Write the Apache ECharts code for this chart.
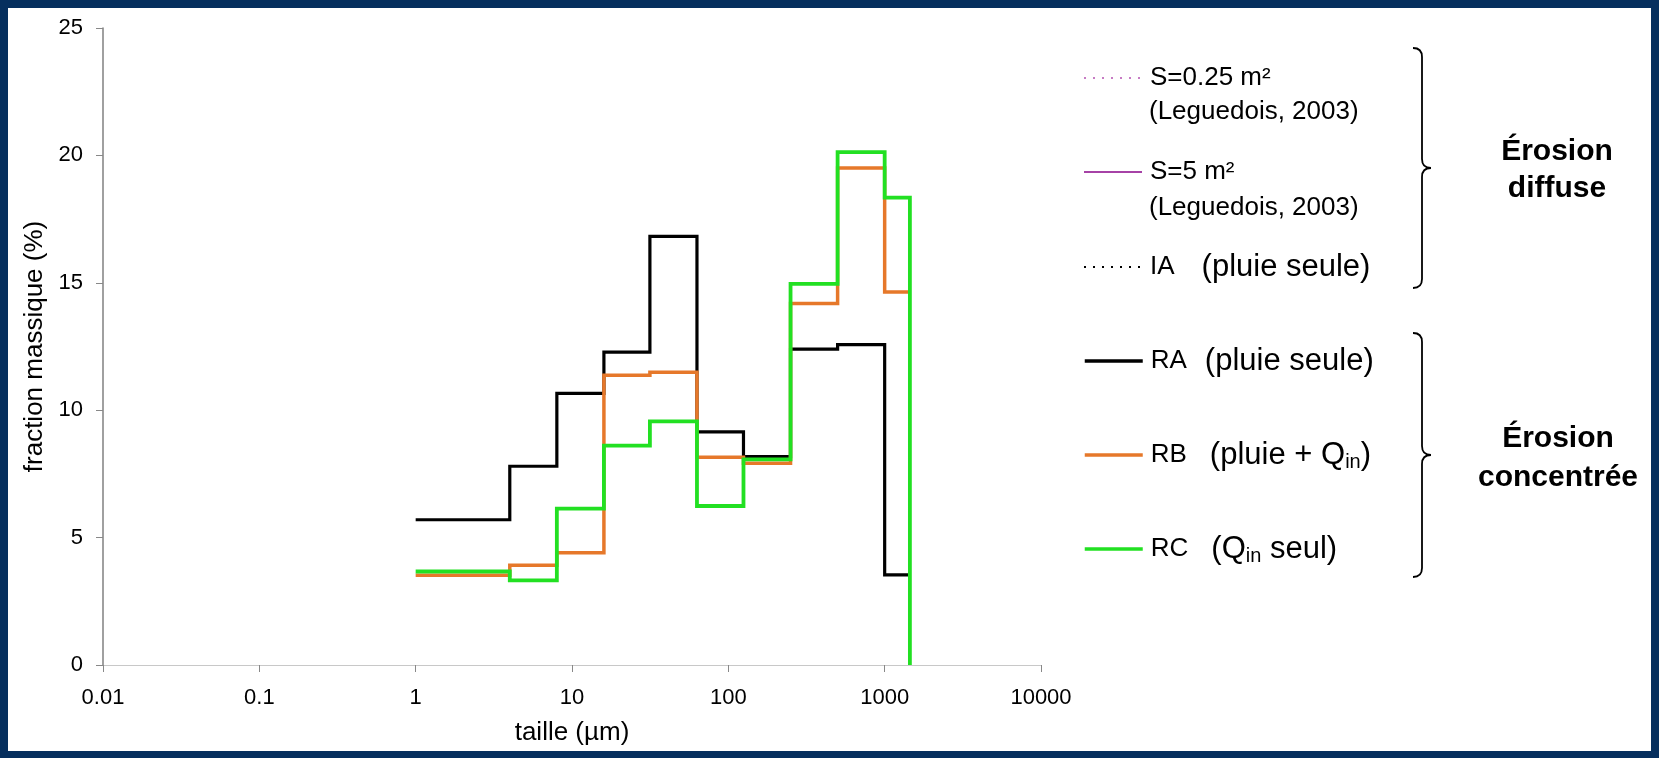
<!DOCTYPE html>
<html><head><meta charset="utf-8">
<script src="https://cdn.jsdelivr.net/npm/echarts@6/dist/echarts.min.js"></script>
<style>
html,body{margin:0;padding:0;background:#062f5e;width:1659px;height:758px;overflow:hidden}
#chart{position:absolute;left:8px;top:8px;width:1643px;height:743px;background:#fff}
</style></head><body><div id="chart"></div>
<script>
// Particle-size class lower edges (µm) and upper edge of last class
const binEdges = [1, 4, 8, 16, 31.5, 63, 125, 250, 500, 1000];
const lastEdge = 1450;
// Mass fractions (%) per class
const RA = [5.70, 7.80, 10.66, 12.28, 16.82, 9.15, 8.18, 12.40, 12.57, 3.54];
const RB = [3.52, 3.91, 4.41, 11.37, 11.49, 8.15, 7.92, 14.19, 19.51, 14.64];
const RC = [3.67, 3.32, 6.14, 8.61, 9.56, 6.24, 8.07, 14.96, 20.13, 18.34];
const RC_closing = 0;
const xTickLabels = ['0.01', '0.1', '1', '10', '100', '1000', '10000'];
const yTickLabels = ['0', '5', '10', '15', '20', '25'];

const FONT = "'Liberation Sans', Arial, sans-serif";

function stepData(vals, closing) {
  const pts = binEdges.map((e, i) => [e, vals[i]]);
  pts.push([lastEdge, vals[vals.length - 1]]);
  if (closing !== undefined) pts.push([lastEdge, closing]);
  return pts;
}

const chart = echarts.init(document.getElementById('chart'), null, {renderer: 'canvas'});

function tok(size, padLeft, extra) {
  return Object.assign({fontSize: size, fontFamily: FONT, color: '#000', lineHeight: 34,
    padding: [0, 0, 0, padLeft || 0]}, extra || {});
}
const legendTextStyle = {
  color: '#000', fontFamily: FONT, fontSize: 26, lineHeight: 34, padding: [0, 0, 0, 3],
  rich: {
    n: tok(26, 0),
    p: tok(31, 0),
    p18: tok(31, 18),
    p23: tok(31, 23),
    p27: tok(31, 27),
    sub: {fontSize: 20, fontFamily: FONT, color: '#000', lineHeight: 12, verticalAlign: 'bottom'}
  }
};

function mkLegend(name, cy, fmt, lw) {
  return {
    show: true, data: [name], left: 1075, top: cy - 18, orient: 'vertical',
    padding: 0, itemWidth: 58, itemHeight: 36, itemGap: 0,
    selectedMode: false,
    formatter: () => fmt,
    itemStyle: {color: 'rgba(0,0,0,0)', borderWidth: 0, opacity: 0},
    lineStyle: {width: lw},
    textStyle: legendTextStyle
  };
}

function brace(x0, y0, y1, w) {
  const ym = (y0 + y1) / 2;
  const st = {fill: 'none', stroke: '#000', lineWidth: 1.8};
  const xs = x0 + w;
  return [
    {type: 'bezierCurve', shape: {x1: x0, y1: y0, cpx1: xs, cpy1: y0, x2: xs, y2: y0 + w}, style: st},
    {type: 'line', shape: {x1: xs, y1: y0 + w, x2: xs, y2: ym - w}, style: st},
    {type: 'bezierCurve', shape: {x1: xs, y1: ym - w, cpx1: xs, cpy1: ym, x2: xs + w, y2: ym}, style: st},
    {type: 'bezierCurve', shape: {x1: xs + w, y1: ym, cpx1: xs, cpy1: ym, x2: xs, y2: ym + w}, style: st},
    {type: 'line', shape: {x1: xs, y1: ym + w, x2: xs, y2: y1 - w}, style: st},
    {type: 'bezierCurve', shape: {x1: xs, y1: y1 - w, cpx1: xs, cpy1: y1, x2: x0, y2: y1}, style: st}
  ];
}

const option = {
  animation: false,
  backgroundColor: '#ffffff',
  grid: {left: 95, right: 610, top: 20, bottom: 79, containLabel: false},
  xAxis: {
    type: 'log', logBase: 10, min: 0.01, max: 10000,
    name: 'taille (µm)', nameLocation: 'middle', nameGap: 55,
    nameTextStyle: {fontSize: 26, fontFamily: FONT, color: '#000'},
    axisLine: {show: true, onZero: false, lineStyle: {color: '#c8c8c8', width: 1}},
    axisTick: {show: true, inside: false, length: 7, lineStyle: {color: '#888'}},
    minorTick: {show: false},
    splitLine: {show: false},
    axisLabel: {
      margin: 22, fontSize: 22, fontFamily: FONT, color: '#000',
      formatter: v => xTickLabels[Math.round(Math.log10(v)) + 2]
    }
  },
  yAxis: {
    type: 'value', min: 0, max: 25, interval: 5,
    name: 'fraction massique (%)', nameLocation: 'middle', nameGap: 54, nameRotate: 90,
    nameTextStyle: {fontSize: 26, fontFamily: FONT, color: '#000'},
    axisLine: {show: true, lineStyle: {color: '#808080', width: 1.5}},
    axisTick: {show: true, inside: false, length: 7, lineStyle: {color: '#888'}},
    splitLine: {show: false},
    axisLabel: {
      margin: 20, fontSize: 22, fontFamily: FONT, color: '#000',
      formatter: v => yTickLabels[Math.round(v / 5)]
    }
  },
  legend: [
    mkLegend('S=0.25 m²', 71, '{n|S=0.25 m²}', 2),
    mkLegend('S=5 m²', 165, '{n|S=5 m²}', 2),
    mkLegend('IA', 260, '{n|IA}{p27|(pluie seule)}', 2),
    mkLegend('RA', 354, '{n|RA}{p18|(pluie seule)}', 3.5),
    mkLegend('RB', 448, '{n|RB}{p23|(pluie + Q}{sub|in}{p|)}', 3.5),
    mkLegend('RC', 542, '{n|RC}{p23|(Q}{sub|in}{p| seul)}', 3.5)
  ],
  series: [
    {name: 'S=0.25 m²', type: 'line', data: [], symbol: 'none',
     lineStyle: {color: '#c77cc4', width: 2, type: [2, 7]}, itemStyle: {color: '#c77cc4'}},
    {name: 'S=5 m²', type: 'line', data: [], symbol: 'none',
     lineStyle: {color: '#a642a6', width: 2}, itemStyle: {color: '#a642a6'}},
    {name: 'IA', type: 'line', data: [], symbol: 'none',
     lineStyle: {color: '#000', width: 2, type: [2, 7]}, itemStyle: {color: '#000'}},
    {name: 'RA', type: 'line', step: 'end', data: stepData(RA), symbol: 'none', showSymbol: false,
     lineStyle: {color: '#000000', width: 3.2, join: 'miter'}, itemStyle: {color: '#000000'}, z: 3},
    {name: 'RB', type: 'line', step: 'end', data: stepData(RB), symbol: 'none', showSymbol: false,
     lineStyle: {color: '#e6782a', width: 3.5, join: 'miter'}, itemStyle: {color: '#e6782a'}, z: 4},
    {name: 'RC', type: 'line', step: 'end', data: stepData(RC, RC_closing), symbol: 'none', showSymbol: false,
     lineStyle: {color: '#22e022', width: 3.8, join: 'miter'}, itemStyle: {color: '#22e022'}, z: 5}
  ],
  graphic: [
    {type: 'text', x: 1141, y: 104, style: {text: '(Leguedois, 2003)', font: '26px ' + FONT, fill: '#000', verticalAlign: 'middle'}},
    {type: 'text', x: 1141, y: 200, style: {text: '(Leguedois, 2003)', font: '26px ' + FONT, fill: '#000', verticalAlign: 'middle'}},
    ...brace(1405, 40, 280, 9),
    ...brace(1405, 325, 569, 9),
    {type: 'text', x: 1549, y: 162, style: {text: 'Érosion\ndiffuse', font: 'bold 30px ' + FONT, fill: '#000', align: 'center', verticalAlign: 'middle', lineHeight: 37}},
    {type: 'text', x: 1550, y: 450, style: {text: 'Érosion\nconcentrée', font: 'bold 30px ' + FONT, fill: '#000', align: 'center', verticalAlign: 'middle', lineHeight: 39}}
  ]
};
chart.setOption(option);
</script></body></html>
